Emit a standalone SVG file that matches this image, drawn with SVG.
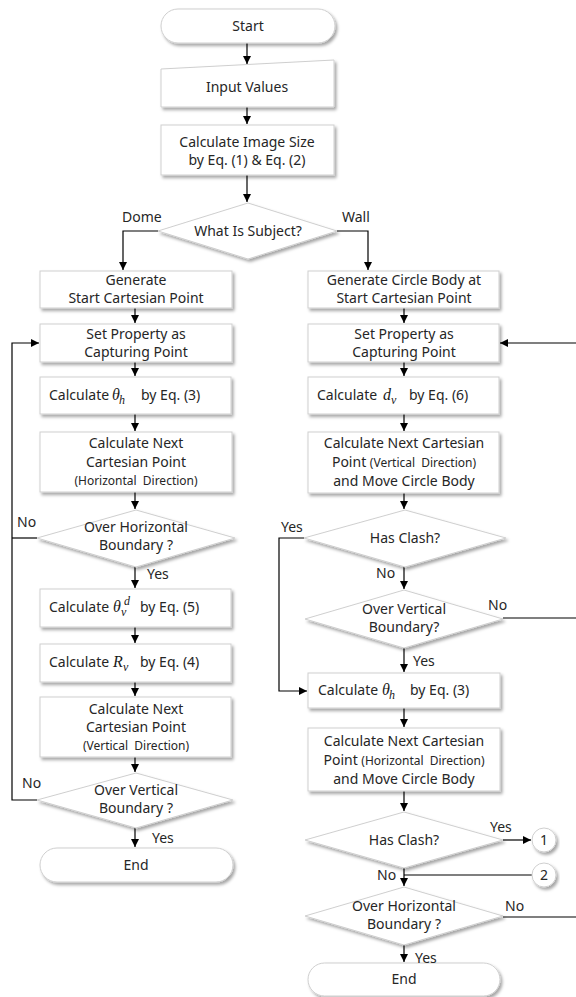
<svg xmlns="http://www.w3.org/2000/svg" width="576" height="997" viewBox="0 0 576 997">
<style>
.box{fill:#fff;stroke:#cfcfcf;stroke-width:1;filter:url(#sh)}
.t{font-family:"Noto Sans","Open Sans",sans-serif;font-size:14px;fill:#262626;text-anchor:middle}
.ts{font-family:"Noto Sans","Open Sans",sans-serif;font-size:14px;fill:#262626}
.s{font-size:12px;word-spacing:3px}
.m{font-family:"Liberation Serif",serif;font-style:italic;font-size:16px;fill:#1a1a1a}
.ms{font-family:"Liberation Serif",serif;font-style:italic;font-size:12px;fill:#1a1a1a}
.lb{font-family:"Noto Sans","Open Sans",sans-serif;font-size:14px;fill:#262626}
.c{fill:none;stroke:#000;stroke-width:1.2}
.a{marker-end:url(#ah)}
</style>
<defs>
<filter id="sh" x="-10%" y="-20%" width="125%" height="150%">
<feDropShadow dx="2" dy="2.5" stdDeviation="1.5" flood-color="#000" flood-opacity="0.35"/>
</filter>
<marker id="ah" viewBox="0 0 10 10" refX="10" refY="5" markerWidth="8" markerHeight="8" markerUnits="userSpaceOnUse" orient="auto">
<path d="M0,0 L10,5 L0,10 z" fill="#000"/>
</marker>
</defs>
<rect width="576" height="997" fill="#fff"/>

<g id="connectors">
<path class="c a" d="M247,43 V64"/>
<path class="c a" d="M247,107 V124"/>
<path class="c a" d="M247,175 V202"/>
<path class="c a" d="M158,231 H123 V270"/>
<path class="c a" d="M337,231 H368 V270"/>
<path class="c a" d="M135,308 V323"/>
<path class="c a" d="M135,362 V376"/>
<path class="c a" d="M135,414 V431"/>
<path class="c a" d="M135,492 V509"/>
<path class="c a" d="M135,567 V588"/>
<path class="c a" d="M135,627 V643"/>
<path class="c a" d="M135,682 V696"/>
<path class="c a" d="M135,757 V772"/>
<path class="c a" d="M135,828 V847"/>
<path class="c a" d="M37,800 H12 V343 H39"/>
<path class="c" d="M37,538 H12"/>
<path class="c a" d="M404,308 V323"/>
<path class="c a" d="M404,362 V376"/>
<path class="c a" d="M404,414 V431"/>
<path class="c a" d="M404,493 V509"/>
<path class="c a" d="M404,567 V589"/>
<path class="c a" d="M404,648 V672"/>
<path class="c a" d="M404,708 V727"/>
<path class="c a" d="M404,791 V811"/>
<path class="c a" d="M404,868 V886"/>
<path class="c a" d="M404,945 V962"/>
<path class="c a" d="M576,343 H500"/>
<path class="c a" d="M304,538 H279 V691 H307"/>
<path class="c" d="M503,618 H576"/>
<path class="c a" d="M503,840 H531"/>
<path class="c" d="M532,875 H404"/>
<path class="c" d="M503,917 H576"/>
</g>

<g id="start">
<rect class="box" x="161" y="9" width="174" height="34" rx="17"/>
<text class="t" x="248" y="31">Start</text>
</g>
<g id="input">
<path class="box" d="M161,69 L334,60 L334,107 L161,107 Z"/>
<text class="t" x="247" y="92">Input Values</text>
</g>
<g id="imgsize">
<rect class="box" x="161" y="125" width="173" height="50"/>
<text class="t" x="247" y="147">Calculate Image Size</text>
<text class="t" x="247" y="165">by Eq. (1) &amp; Eq. (2)</text>
</g>
<g id="subject">
<path class="box" d="M248,203 L337,231 L248,259 L158,231 Z"/>
<text class="t" x="248" y="236">What Is Subject?</text>
</g>

<g id="gen-start">
<rect class="box" x="40" y="271" width="192" height="37"/>
<text class="t" x="136" y="285">Generate</text>
<text class="t" x="136" y="303">Start Cartesian Point</text>
</g>
<g id="set-prop-l">
<rect class="box" x="40" y="324" width="192" height="38"/>
<text class="t" x="136" y="339">Set Property as</text>
<text class="t" x="136" y="357">Capturing Point</text>
</g>
<g id="calc-th-l">
<rect class="box" x="40" y="377" width="191" height="37"/>
<text class="ts" x="49" y="400">Calculate<tspan class="m" x="112">θ</tspan><tspan class="ms" x="119" dy="4">h</tspan><tspan x="141" dy="-4">by Eq. (3)</tspan></text>
</g>
<g id="next-h-l">
<rect class="box" x="40" y="432" width="192" height="60"/>
<text class="t" x="136" y="448">Calculate Next</text>
<text class="t" x="136" y="467">Cartesian Point</text>
<text class="t s" x="136" y="485">(Horizontal Direction)</text>
</g>
<g id="over-h-l">
<path class="box" d="M136,510 L235,538 L136,567 L37,538 Z"/>
<text class="t" x="136" y="532">Over Horizontal</text>
<text class="t" x="136" y="550">Boundary ?</text>
</g>
<g id="calc-tvd">
<rect class="box" x="40" y="589" width="191" height="38"/>
<text class="ts" x="49" y="612">Calculate<tspan class="m" x="113">θ</tspan><tspan class="ms" x="121" dy="4">v</tspan><tspan class="ms" x="124" dy="-11">d</tspan><tspan x="140" dy="7">by Eq. (5)</tspan></text>
</g>
<g id="calc-rv">
<rect class="box" x="40" y="644" width="191" height="38"/>
<text class="ts" x="49" y="667">Calculate<tspan class="m" x="113">R</tspan><tspan class="ms" x="123" dy="4">v</tspan><tspan x="140" dy="-4">by Eq. (4)</tspan></text>
</g>
<g id="next-v-l">
<rect class="box" x="40" y="697" width="191" height="60"/>
<text class="t" x="136" y="714">Calculate Next</text>
<text class="t" x="136" y="732">Cartesian Point</text>
<text class="t s" x="136" y="750">(Vertical Direction)</text>
</g>
<g id="over-v-l">
<path class="box" d="M136,773 L233,800 L136,828 L37,800 Z"/>
<text class="t" x="136" y="795">Over Vertical</text>
<text class="t" x="136" y="813">Boundary ?</text>
</g>
<g id="end-l">
<rect class="box" x="40" y="848" width="193" height="34" rx="17"/>
<text class="t" x="136" y="870">End</text>
</g>

<g id="gen-circle">
<rect class="box" x="308" y="271" width="191" height="37"/>
<text class="t" x="404" y="285">Generate Circle Body at</text>
<text class="t" x="404" y="303">Start Cartesian Point</text>
</g>
<g id="set-prop-r">
<rect class="box" x="308" y="324" width="191" height="38"/>
<text class="t" x="404" y="339">Set Property as</text>
<text class="t" x="404" y="357">Capturing Point</text>
</g>
<g id="calc-dv">
<rect class="box" x="308" y="377" width="191" height="37"/>
<text class="ts" x="317" y="400">Calculate<tspan class="m" x="383">d</tspan><tspan class="ms" x="391" dy="4">v</tspan><tspan x="409" dy="-4">by Eq. (6)</tspan></text>
</g>
<g id="next-v-r">
<rect class="box" x="308" y="432" width="191" height="61"/>
<text class="t" x="404" y="448">Calculate Next Cartesian</text>
<text class="t" x="404" y="467">Point <tspan class="s">(Vertical Direction)</tspan></text>
<text class="t" x="404" y="486">and Move Circle Body</text>
</g>
<g id="clash-1">
<path class="box" d="M405,510 L506,538 L405,567 L304,538 Z"/>
<text class="t" x="405" y="543">Has Clash?</text>
</g>
<g id="over-v-r">
<path class="box" d="M404,590 L503,619 L404,648 L305,619 Z"/>
<text class="t" x="404" y="614">Over Vertical</text>
<text class="t" x="404" y="632">Boundary?</text>
</g>
<g id="calc-th-r">
<rect class="box" x="308" y="673" width="192" height="35"/>
<text class="ts" x="318" y="695">Calculate<tspan class="m" x="382">θ</tspan><tspan class="ms" x="389" dy="4">h</tspan><tspan x="410" dy="-4">by Eq. (3)</tspan></text>
</g>
<g id="next-h-r">
<rect class="box" x="308" y="728" width="192" height="63"/>
<text class="t" x="404" y="746">Calculate Next Cartesian</text>
<text class="t" x="404" y="765">Point <tspan class="s">(Horizontal Direction)</tspan></text>
<text class="t" x="404" y="784">and Move Circle Body</text>
</g>
<g id="clash-2">
<path class="box" d="M404,812 L503,840 L404,868 L305,840 Z"/>
<text class="t" x="404" y="845">Has Clash?</text>
</g>
<g id="conn-1">
<circle class="box" cx="544" cy="840" r="12"/>
<text class="t" x="544" y="845">1</text>
</g>
<g id="conn-2">
<circle class="box" cx="544" cy="875" r="12"/>
<text class="t" x="544" y="880">2</text>
</g>
<g id="over-h-r">
<path class="box" d="M404,887 L503,916 L404,945 L305,916 Z"/>
<text class="t" x="404" y="911">Over Horizontal</text>
<text class="t" x="404" y="929">Boundary ?</text>
</g>
<g id="end-r">
<rect class="box" x="308" y="963" width="192" height="33" rx="16.5"/>
<text class="t" x="404" y="984">End</text>
</g>

<g id="labels">
<text class="lb" x="122" y="222">Dome</text>
<text class="lb" x="342" y="222">Wall</text>
<text class="lb" x="17" y="527">No</text>
<text class="lb" x="147" y="579">Yes</text>
<text class="lb" x="22" y="788">No</text>
<text class="lb" x="152" y="843">Yes</text>
<text class="lb" x="281" y="532">Yes</text>
<text class="lb" x="376" y="578">No</text>
<text class="lb" x="488" y="610">No</text>
<text class="lb" x="413" y="666">Yes</text>
<text class="lb" x="490" y="832">Yes</text>
<text class="lb" x="377" y="880">No</text>
<text class="lb" x="505" y="911">No</text>
<text class="lb" x="415" y="963">Yes</text>
</g>
</svg>
